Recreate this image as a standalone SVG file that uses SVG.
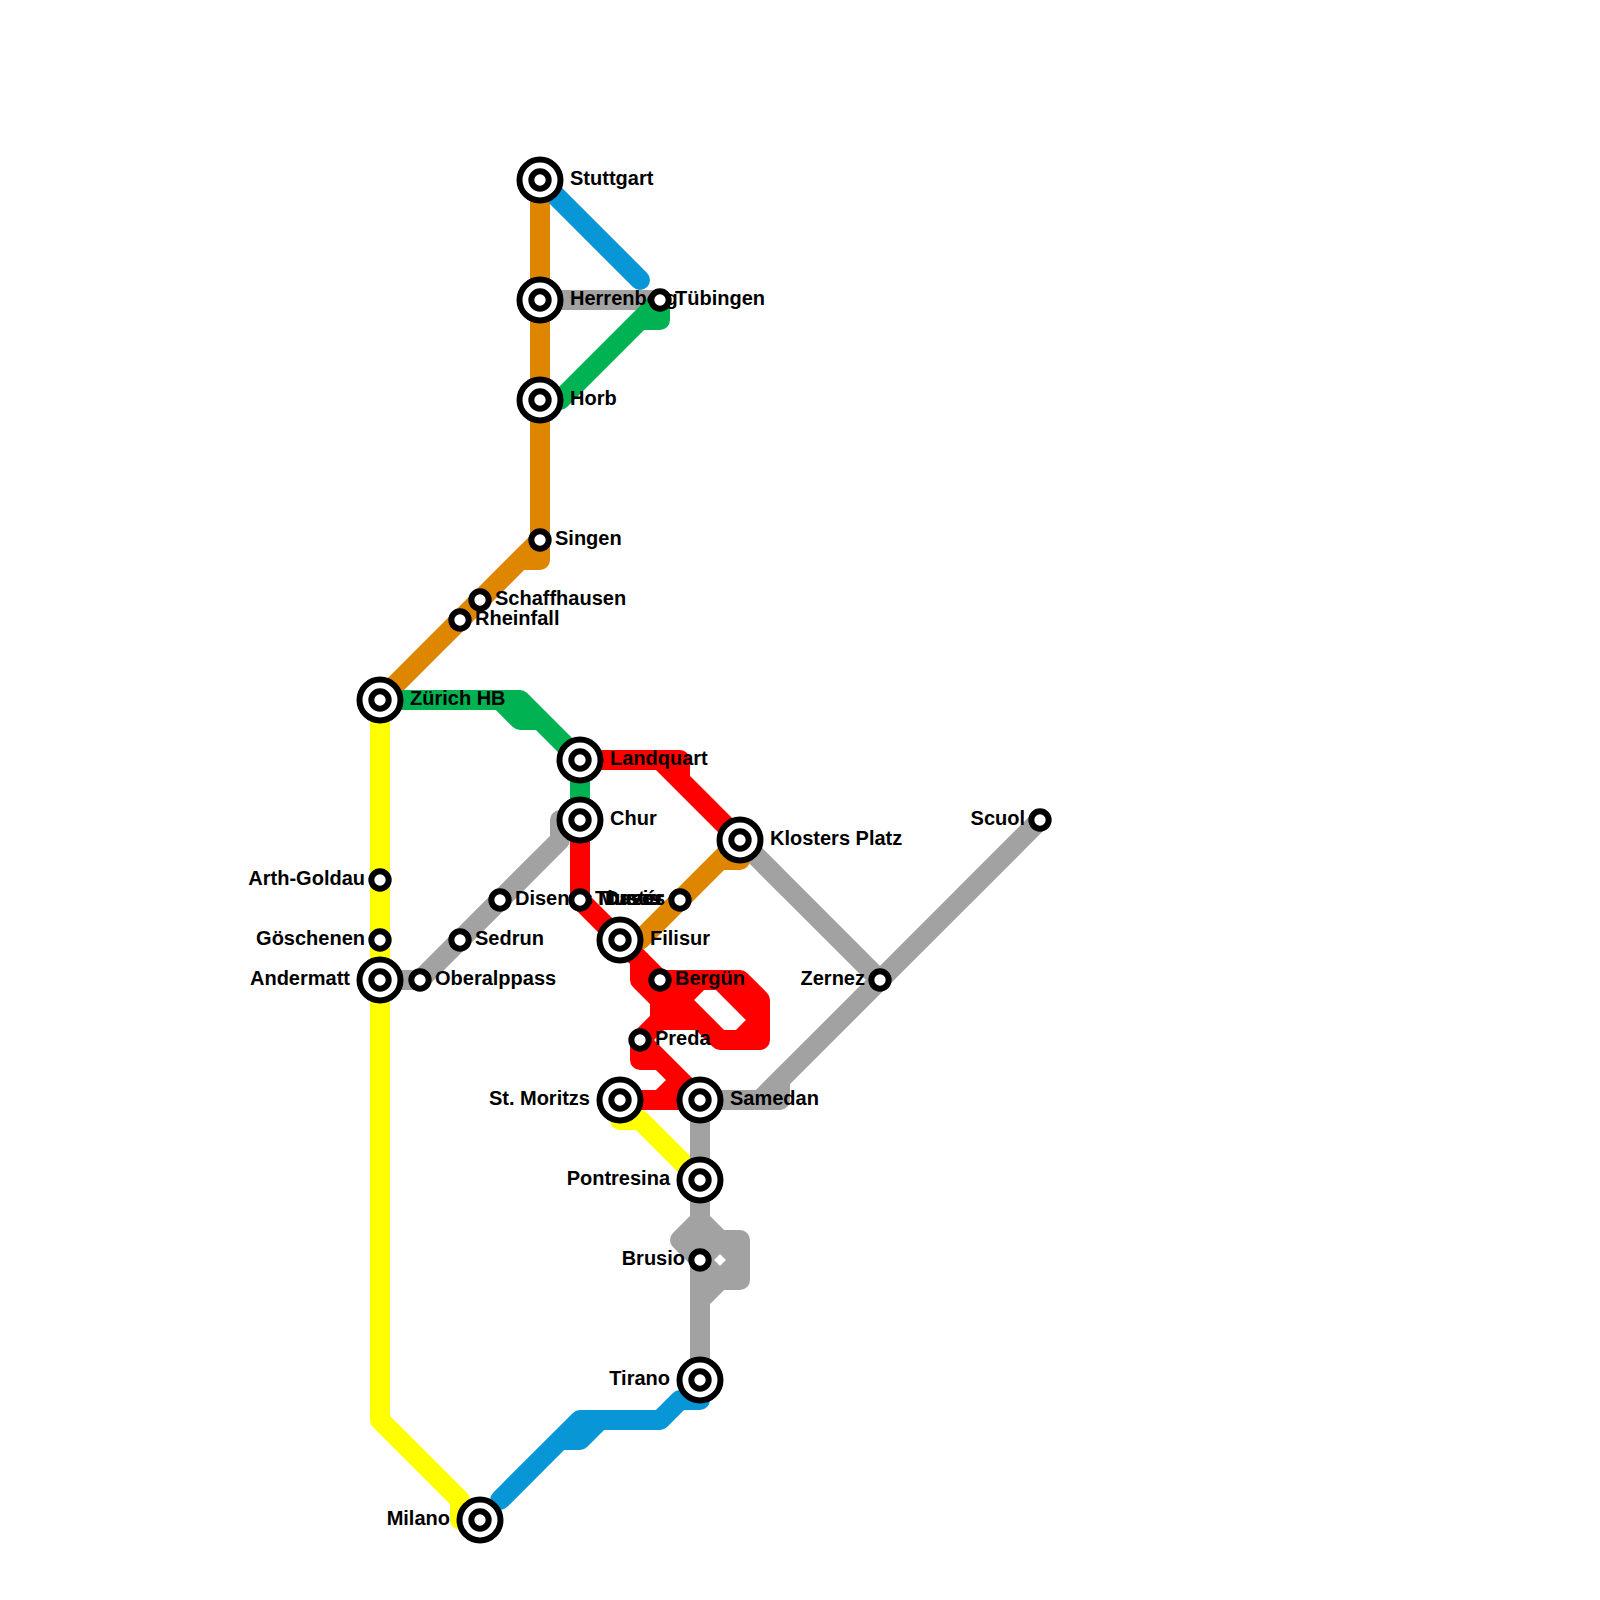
<svg xmlns="http://www.w3.org/2000/svg" width="1600" height="1600" viewBox="0 0 1600 1600">
<style>
.l{fill:none;stroke-width:20;stroke-linejoin:round;stroke-linecap:butt}
.r{stroke-linecap:round}
.orange{stroke:#df8600}.green{stroke:#00b251}.blue{stroke:#0896d7}.gray{stroke:#a2a2a2}.red{stroke:#ff0000}.yellow{stroke:#ffff00}
.o{fill:#fff;stroke:#000;stroke-width:6}
text{font-family:"Liberation Sans",Arial,sans-serif;font-size:20px;font-weight:bold;fill:#000}
.e{text-anchor:end}
</style>
<defs>
<g id="big"><circle class="o" r="20.5"/><circle class="o" r="8.67"/></g>
<g id="small"><circle class="o" r="8.67"/></g>
</defs>
<g id="connectors">
<path class="l yellow" d="M380,700L380,1420L460,1500L460,1520L480,1520"/>
<path class="l yellow" d="M620,1100L620,1120L640,1120L700,1180"/>
<path class="l gray" d="M540,300L660,300"/>
<path class="l gray" d="M380,980L420,980L560,840L560,820L580,820"/>
<path class="l gray" d="M740,840L880,980"/>
<path class="l gray" d="M700,1100L780,1100L780,1080M760,1100L1040,820"/>
<path class="l gray" d="M700,1100L700,1380"/>
<path class="l gray" d="M700,1220L680,1240L700,1260L720,1280L700,1300M700,1220L720,1240L740,1240L740,1280L720,1280M720,1240L740,1260L720,1280M700,1260L720,1240"/>
<path class="l orange" d="M540,180L540,560L520,560M380,700L540,540"/>
<path class="l orange" d="M620,940L640,940L740,840L740,860L720,860"/>
<path class="l blue r" d="M540,180L640,280"/>
<path class="l blue r" d="M500,1500L580,1420L660,1420L680,1400L700,1400L700,1380"/>
<path class="l blue" d="M560,1440L580,1440L600,1420"/>
<path class="l green" d="M540,400L560,400L660,300L660,320L640,320"/>
<path class="l green" d="M380,700L520,700L580,760L580,820"/>
<path class="l green" d="M500,700L520,720L540,720"/>
<path class="l red" d="M580,760L680,760L680,780"/>
<path class="l red" d="M660,760L740,840"/>
<path class="l red" d="M580,820L580,900L640,960L640,980L660,1000L660,1020L640,1040L640,1060L660,1060"/>
<path class="l red" d="M640,1040L700,1100M620,1100L700,1100M660,1100L680,1080"/>
<path class="l red" d="M640,960L660,980L740,980L760,1000L760,1040L720,1040L660,980"/>
<path class="l red" d="M660,1020L700,1020M700,980L680,1000L660,1000M720,980L760,1020L740,1040"/>
</g>
<g id="n-stuttgart"><text x="570" y="185">Stuttgart</text><use href="#big" x="540" y="180"/></g>
<g id="n-herrenberg"><text x="570" y="305">Herrenberg</text><use href="#big" x="540" y="300"/></g>
<g id="n-tubingen"><use href="#small" x="660" y="300"/><text x="675" y="305">Tübingen</text></g>
<g id="n-horb"><text x="570" y="405">Horb</text><use href="#big" x="540" y="400"/></g>
<g id="n-singen"><text x="555" y="545">Singen</text><use href="#small" x="540" y="540"/></g>
<g id="n-schaffhausen"><text x="495" y="605">Schaffhausen</text><use href="#small" x="480" y="600"/></g>
<g id="n-rheinfall"><text x="475" y="625">Rheinfall</text><use href="#small" x="460" y="620"/></g>
<g id="n-zurich"><text x="410" y="705">Zürich HB</text><use href="#big" x="380" y="700"/></g>
<g id="n-landquart"><text x="610" y="765">Landquart</text><use href="#big" x="580" y="760"/></g>
<g id="n-chur"><text x="610" y="825">Chur</text><use href="#big" x="580" y="820"/></g>
<g id="n-klosters"><text x="770" y="845">Klosters Platz</text><use href="#big" x="740" y="840"/></g>
<g id="n-scuol"><text class="e" x="1025" y="825">Scuol</text><use href="#small" x="1040" y="820"/></g>
<g id="n-arth"><text class="e" x="365" y="885">Arth-Goldau</text><use href="#small" x="380" y="880"/></g>
<g id="n-disentis"><text x="515" y="905">Disentis Mustér</text><use href="#small" x="500" y="900"/></g>
<g id="n-thusis"><use href="#small" x="580" y="900"/><text x="595" y="905">Thusis</text></g>
<g id="n-davos"><text class="e" x="665" y="905">Davos</text><use href="#small" x="680" y="900"/></g>
<g id="n-goschenen"><text class="e" x="365" y="945">Göschenen</text><use href="#small" x="380" y="940"/></g>
<g id="n-sedrun"><text x="475" y="945">Sedrun</text><use href="#small" x="460" y="940"/></g>
<g id="n-filisur"><text x="650" y="945">Filisur</text><use href="#big" x="620" y="940"/></g>
<g id="n-andermatt"><text class="e" x="350" y="985">Andermatt</text><use href="#big" x="380" y="980"/></g>
<g id="n-oberalppass"><text x="435" y="985">Oberalppass</text><use href="#small" x="420" y="980"/></g>
<g id="n-bergun"><text x="675" y="985">Bergün</text><use href="#small" x="660" y="980"/></g>
<g id="n-zernez"><text class="e" x="865" y="985">Zernez</text><use href="#small" x="880" y="980"/></g>
<g id="n-preda"><text x="655" y="1045">Preda</text><use href="#small" x="640" y="1040"/></g>
<g id="n-stmoritz"><text class="e" x="590" y="1105">St. Moritzs</text><use href="#big" x="620" y="1100"/></g>
<g id="n-samedan"><text x="730" y="1105">Samedan</text><use href="#big" x="700" y="1100"/></g>
<g id="n-pontresina"><text class="e" x="670" y="1185">Pontresina</text><use href="#big" x="700" y="1180"/></g>
<g id="n-brusio"><text class="e" x="685" y="1265">Brusio</text><use href="#small" x="700" y="1260"/></g>
<g id="n-tirano"><text class="e" x="670" y="1385">Tirano</text><use href="#big" x="700" y="1380"/></g>
<g id="n-milano"><text class="e" x="450" y="1525">Milano</text><use href="#big" x="480" y="1520"/></g>
</svg>
